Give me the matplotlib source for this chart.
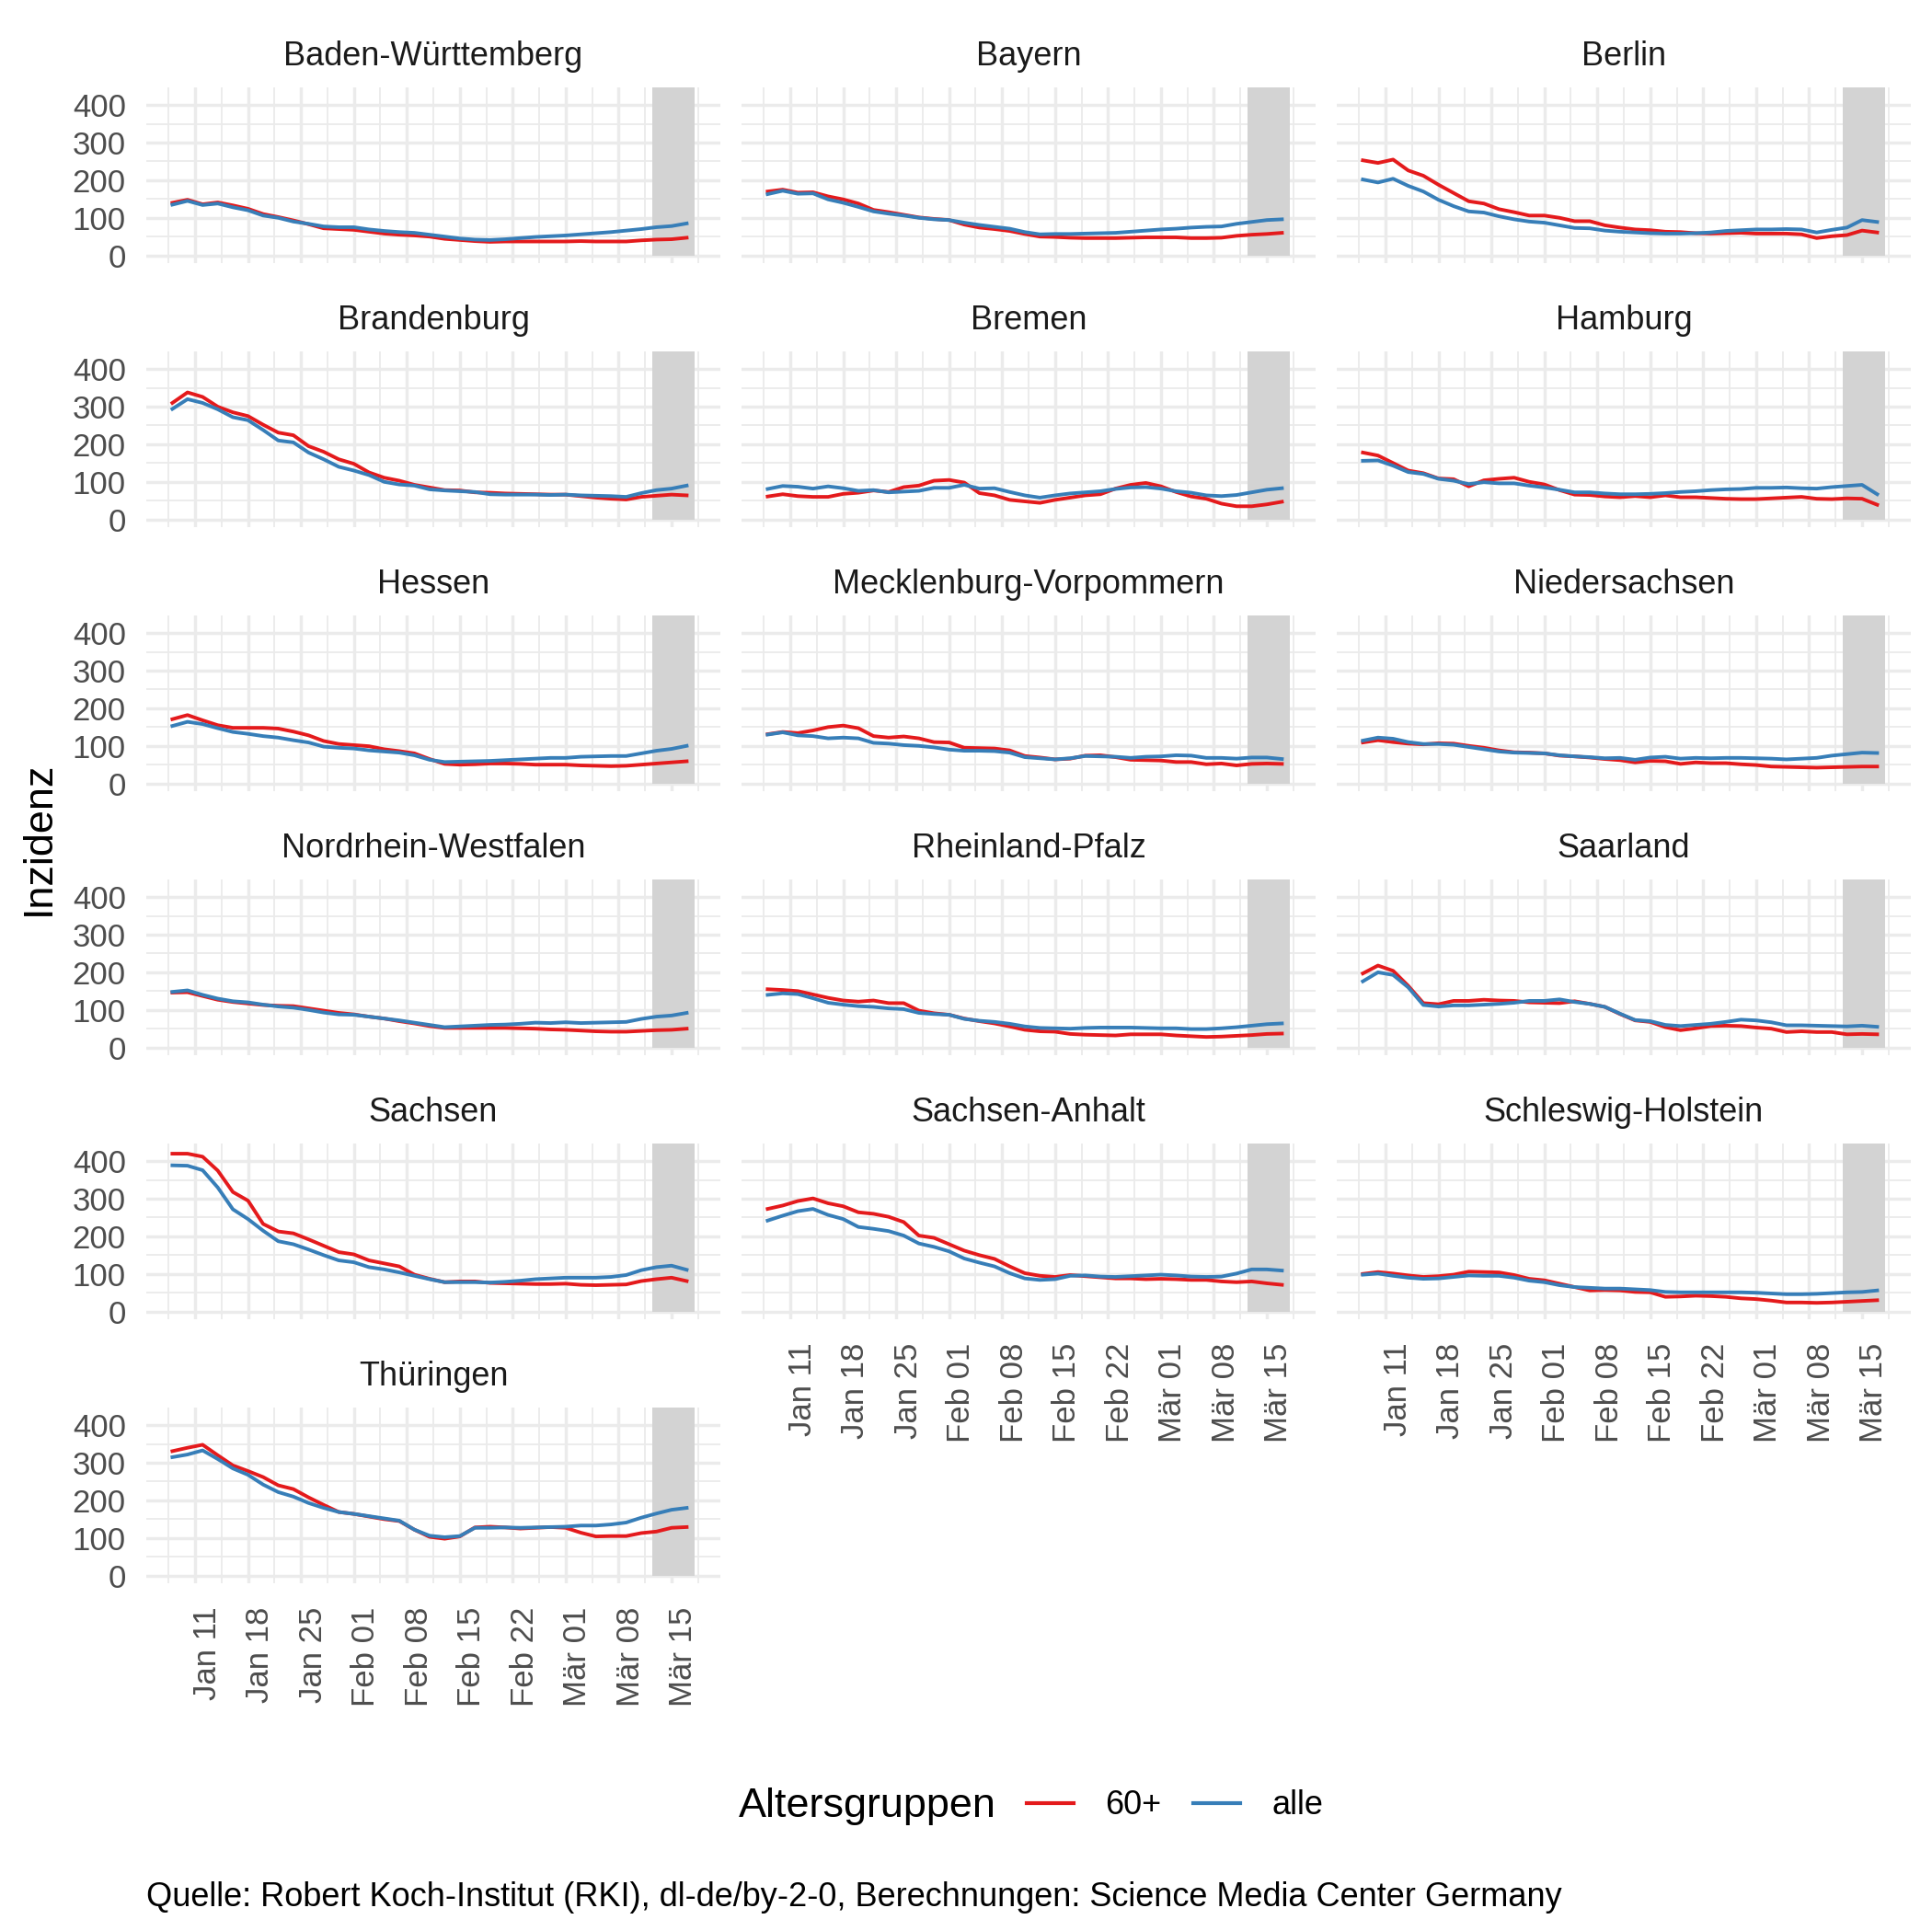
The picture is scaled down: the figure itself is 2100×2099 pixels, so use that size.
import numpy as np
import pandas as pd
import matplotlib
matplotlib.use("Agg")
import matplotlib.pyplot as plt
import matplotlib.dates as mdates
from matplotlib.lines import Line2D
from matplotlib.patches import Rectangle
from matplotlib.transforms import ScaledTranslation

plt.rcParams["font.family"] = ["Liberation Sans", "DejaVu Sans"]

# 7-Tage-Inzidenz, jeder zweite Tag vom 08.01. bis 17.03.2021
dates = pd.date_range("2021-01-08", "2021-03-17", freq="2D")

bw_60 = [140, 148, 136, 141, 133, 124, 110, 102, 93, 83, 72, 70, 68, 63, 58, 55, 53, 50, 44, 41,
         38, 36, 37, 37, 37, 37, 37, 38, 37, 37, 37, 40, 42, 43, 47]
bw_alle = [135, 145, 134, 138, 128, 120, 106, 100, 90, 84, 77, 75, 75, 69, 65, 62, 60, 55, 50, 45,
           42, 41, 43, 46, 49, 51, 53, 56, 59, 62, 66, 70, 75, 78, 85]
by_60 = [170, 175, 167, 168, 157, 149, 138, 121, 115, 108, 101, 97, 94, 82, 74, 70, 65, 57, 50, 49,
         47, 46, 46, 46, 47, 48, 48, 48, 46, 46, 47, 52, 55, 57, 60]
by_alle = [163, 172, 164, 165, 149, 140, 129, 117, 111, 106, 100, 96, 94, 87, 81, 76, 71, 62, 56, 57,
           57, 58, 59, 60, 63, 66, 69, 71, 74, 76, 77, 84, 89, 94, 96]
be_60 = [253, 246, 255, 226, 212, 188, 166, 144, 138, 123, 115, 106, 106, 100, 91, 91, 80, 74, 69, 67,
         63, 62, 59, 58, 59, 60, 58, 58, 58, 56, 46, 51, 54, 66, 61]
be_alle = [202, 194, 204, 185, 170, 148, 131, 117, 114, 104, 96, 90, 87, 80, 73, 72, 66, 63, 61, 59,
           58, 58, 59, 61, 65, 67, 69, 69, 70, 69, 61, 68, 74, 94, 89]
bb_60 = [310, 338, 326, 300, 285, 275, 252, 231, 224, 195, 180, 160, 148, 125, 111, 103, 92, 85, 78, 77,
         72, 71, 69, 68, 67, 66, 66, 62, 58, 55, 53, 60, 63, 66, 64]
bb_alle = [294, 320, 310, 293, 272, 264, 238, 210, 205, 178, 160, 140, 130, 118, 100, 93, 90, 80, 77, 75,
           73, 67, 66, 66, 66, 65, 66, 64, 63, 62, 60, 70, 78, 82, 90]
hb_60 = [61, 67, 62, 60, 60, 68, 71, 77, 73, 86, 90, 103, 105, 98, 70, 64, 52, 48, 44, 52,
         58, 64, 67, 82, 92, 97, 88, 73, 61, 55, 42, 35, 35, 40, 47]
hb_alle = [81, 89, 87, 82, 88, 83, 76, 78, 72, 74, 76, 84, 84, 92, 82, 83, 73, 64, 58, 64,
           69, 72, 75, 81, 85, 86, 82, 75, 71, 64, 62, 65, 72, 79, 83]
hh_60 = [178, 170, 150, 130, 123, 109, 107, 88, 104, 108, 111, 100, 93, 78, 66, 65, 61, 59, 62, 59,
         64, 59, 59, 57, 55, 54, 54, 56, 58, 60, 55, 54, 56, 55, 39]
hh_alle = [156, 157, 143, 126, 121, 108, 103, 94, 99, 96, 96, 90, 85, 79, 72, 72, 69, 67, 67, 68,
           70, 73, 75, 78, 80, 81, 84, 84, 85, 83, 82, 86, 89, 92, 67]
he_60 = [171, 182, 168, 155, 148, 148, 148, 146, 138, 128, 113, 105, 102, 99, 91, 86, 80, 65, 52, 50,
         51, 53, 53, 52, 50, 50, 50, 48, 47, 46, 47, 50, 53, 56, 59]
he_alle = [153, 164, 158, 147, 137, 132, 126, 122, 115, 109, 98, 95, 93, 88, 85, 82, 75, 63, 57, 58,
           59, 60, 62, 64, 66, 68, 68, 71, 72, 73, 73, 80, 87, 92, 100]
mv_60 = [131, 137, 134, 141, 150, 154, 147, 126, 122, 125, 120, 110, 109, 95, 94, 93, 88, 73, 69, 64,
         66, 74, 75, 70, 63, 62, 61, 57, 57, 51, 53, 48, 52, 53, 52]
mv_alle = [130, 136, 128, 126, 120, 122, 120, 108, 106, 102, 100, 96, 90, 87, 87, 86, 82, 70, 67, 64,
           67, 73, 72, 71, 68, 71, 72, 75, 74, 68, 68, 66, 69, 69, 65]
ni_60 = [109, 115, 110, 106, 104, 107, 106, 100, 95, 88, 83, 82, 80, 74, 72, 69, 65, 62, 56, 60,
         59, 52, 56, 54, 54, 51, 49, 45, 44, 43, 42, 43, 44, 45, 45]
ni_alle = [114, 122, 119, 110, 105, 105, 103, 97, 91, 85, 82, 81, 80, 75, 72, 70, 67, 68, 63, 69,
           71, 66, 68, 67, 68, 68, 67, 66, 64, 66, 68, 74, 78, 82, 81]
nw_60 = [146, 147, 137, 127, 121, 117, 113, 111, 110, 104, 98, 92, 88, 82, 77, 70, 64, 57, 52, 52,
         52, 52, 52, 51, 50, 48, 47, 45, 43, 42, 42, 44, 46, 47, 50]
nw_alle = [148, 152, 140, 130, 123, 120, 114, 109, 106, 100, 93, 88, 87, 82, 77, 72, 66, 60, 54, 56,
           58, 60, 61, 63, 66, 65, 67, 65, 66, 67, 68, 76, 82, 85, 92]
rp_60 = [155, 153, 150, 141, 132, 125, 122, 125, 118, 118, 98, 91, 87, 77, 70, 64, 56, 47, 43, 42,
         36, 34, 33, 32, 35, 35, 35, 32, 30, 28, 29, 31, 33, 36, 37]
rp_alle = [140, 144, 142, 131, 119, 114, 110, 108, 104, 102, 92, 89, 87, 76, 71, 68, 63, 56, 52, 51,
           50, 52, 53, 53, 53, 52, 51, 51, 49, 49, 51, 54, 58, 62, 64]
sl_60 = [197, 218, 204, 164, 118, 115, 124, 124, 127, 125, 124, 120, 119, 118, 123, 116, 108, 89, 72, 68,
         54, 46, 51, 57, 58, 57, 53, 50, 41, 43, 41, 41, 35, 36, 35]
sl_alle = [176, 200, 193, 160, 113, 109, 112, 112, 114, 116, 119, 124, 124, 128, 121, 116, 108, 90, 73, 70,
           60, 57, 60, 63, 68, 74, 72, 67, 59, 59, 58, 57, 56, 58, 55]
sn_60 = [420, 420, 412, 375, 318, 295, 233, 213, 208, 192, 175, 158, 152, 136, 128, 120, 98, 87, 78, 80,
         80, 76, 75, 74, 73, 73, 74, 71, 70, 71, 72, 81, 86, 90, 81]
sn_alle = [389, 388, 376, 330, 272, 246, 215, 187, 179, 165, 150, 136, 131, 118, 112, 104, 95, 86, 78, 78,
           78, 77, 79, 82, 86, 88, 90, 90, 90, 92, 97, 110, 118, 122, 111]
st_60 = [273, 282, 294, 301, 288, 280, 264, 260, 252, 238, 202, 196, 179, 162, 150, 140, 120, 102, 95, 92,
         97, 94, 91, 88, 88, 86, 87, 86, 84, 84, 80, 78, 80, 75, 71]
st_alle = [242, 255, 267, 273, 257, 246, 225, 220, 214, 202, 181, 172, 160, 141, 130, 120, 102, 88, 84, 86,
           95, 96, 93, 92, 94, 96, 98, 96, 93, 92, 93, 101, 112, 112, 109]
sh_60 = [100, 105, 101, 96, 92, 94, 98, 106, 105, 104, 97, 87, 83, 74, 65, 56, 57, 56, 52, 51,
         39, 40, 42, 41, 39, 35, 33, 29, 24, 24, 23, 24, 26, 28, 30]
sh_alle = [98, 101, 95, 90, 87, 88, 92, 96, 95, 95, 90, 82, 78, 70, 65, 63, 61, 61, 59, 57,
           52, 51, 51, 51, 51, 51, 50, 48, 46, 46, 47, 49, 51, 52, 56]
th_60 = [331, 340, 348, 320, 293, 278, 262, 240, 230, 208, 188, 169, 164, 157, 150, 145, 122, 103, 98, 104,
         128, 130, 128, 125, 127, 129, 127, 114, 104, 105, 105, 113, 117, 127, 129]
th_alle = [315, 322, 333, 310, 285, 268, 242, 222, 210, 193, 180, 169, 164, 158, 152, 146, 122, 106, 102, 105,
           127, 127, 128, 127, 128, 129, 130, 133, 133, 136, 141, 154, 165, 175, 180]

states = ["Baden-Württemberg", "Bayern", "Berlin", "Brandenburg", "Bremen", "Hamburg",
          "Hessen", "Mecklenburg-Vorpommern", "Niedersachsen", "Nordrhein-Westfalen",
          "Rheinland-Pfalz", "Saarland", "Sachsen", "Sachsen-Anhalt", "Schleswig-Holstein",
          "Thüringen"]
series_60 = [bw_60, by_60, be_60, bb_60, hb_60, hh_60, he_60, mv_60, ni_60, nw_60,
             rp_60, sl_60, sn_60, st_60, sh_60, th_60]
series_alle = [bw_alle, by_alle, be_alle, bb_alle, hb_alle, hh_alle, he_alle, mv_alle, ni_alle,
               nw_alle, rp_alle, sl_alle, sn_alle, st_alle, sh_alle, th_alle]

tick_dates = pd.to_datetime(["2021-01-11", "2021-01-18", "2021-01-25", "2021-02-01", "2021-02-08",
                             "2021-02-15", "2021-02-22", "2021-03-01", "2021-03-08", "2021-03-15"])
tick_labels = ["Jan 11", "Jan 18", "Jan 25", "Feb 01", "Feb 08", "Feb 15", "Feb 22",
               "Mär 01", "Mär 08", "Mär 15"]
shade_start = pd.Timestamp("2021-03-12 10:00")
shade_end = pd.Timestamp("2021-03-18")

RED = "#E41A1C"
BLUE = "#377EB8"
GRID = "#EBEBEB"
SHADE = "#D3D3D3"

W, H = 2100, 2099
fig = plt.figure(figsize=(W / 100, H / 100), dpi=100)

# x range with ggplot-like 5% expansion (data + shaded box)
x0 = mdates.date2num(dates[0])
x1 = mdates.date2num(shade_end)
xpad = 0.05 * (x1 - x0)
ytop = 426
ylim = (-0.05 * ytop, 1.05 * ytop)

major = mdates.date2num(tick_dates)
minor = np.append(major - 3.5, major[-1] + 3.5)

pw, ph = 624, 191.4
for i, name in enumerate(states):
    r, c = divmod(i, 3)
    left = 159 + 647 * c
    top = 94.9 + 287 * r
    ax = fig.add_axes([left / W, 1 - (top + ph) / H, pw / W, ph / H])
    ax.set_xlim(x0 - xpad, x1 + xpad)
    ax.set_ylim(*ylim)
    ax.set_xticks(major)
    ax.set_xticks(minor, minor=True)
    ax.set_yticks([0, 100, 200, 300, 400])
    ax.set_yticks([50, 150, 250, 350], minor=True)
    ax.grid(which="major", color=GRID, linewidth=2.5)
    ax.grid(which="minor", color=GRID, linewidth=1.3)
    ax.set_axisbelow(True)
    for s in ax.spines.values():
        s.set_visible(False)
    ax.tick_params(which="both", length=0)

    xs = mdates.date2num(shade_start)
    xe = mdates.date2num(shade_end)
    ax.add_patch(Rectangle((xs, 0), xe - xs, ylim[1], facecolor=SHADE,
                           edgecolor="none", zorder=1))

    ax.plot(dates, series_60[i], color=RED, linewidth=2.8, zorder=2)
    ax.plot(dates, series_alle[i], color=BLUE, linewidth=2.8, zorder=3)

    ax.set_title(name, fontsize=26, color="#1A1A1A", pad=17)

    if c == 0:
        ax.tick_params(axis="y", labelsize=25, labelcolor="#4D4D4D", pad=16)
    else:
        ax.tick_params(axis="y", labelleft=False)

    if i + 3 >= len(states):
        ax.set_xticklabels(tick_labels, rotation=90, fontsize=25, color="#4D4D4D")
        ax.tick_params(axis="x", pad=18)
        shift = ScaledTranslation(13 / 100, 0, fig.dpi_scale_trans)
        for lab in ax.get_xticklabels():
            lab.set_transform(lab.get_transform() + shift)
    else:
        ax.tick_params(axis="x", labelbottom=False)

fig.text(42 / W, 1 - 911 / H, "Inzidenz", rotation=90, fontsize=32.4,
         ha="center", va="center")

# legend
leg_y = 1 - 1963 / H
fig.text(803 / W, leg_y, "Altersgruppen", fontsize=32.4, ha="left", va="center")
handles = [Line2D([], [], color=RED, linewidth=3.0), Line2D([], [], color=BLUE, linewidth=3.0)]
fig.legend(handles, ["60+", "alle"], ncol=2, loc="center left",
           bbox_to_anchor=(1116 / W, leg_y), frameon=False, fontsize=26,
           handlelength=1.42, handletextpad=0.95, columnspacing=0.94,
           borderpad=0, borderaxespad=0)

fig.text(159 / W, 1 - 2063 / H,
         "Quelle: Robert Koch-Institut (RKI), dl-de/by-2-0, Berechnungen: Science Media Center Germany",
         fontsize=26, ha="left", va="center")

fig.savefig("out.png", dpi=100, facecolor="white")
